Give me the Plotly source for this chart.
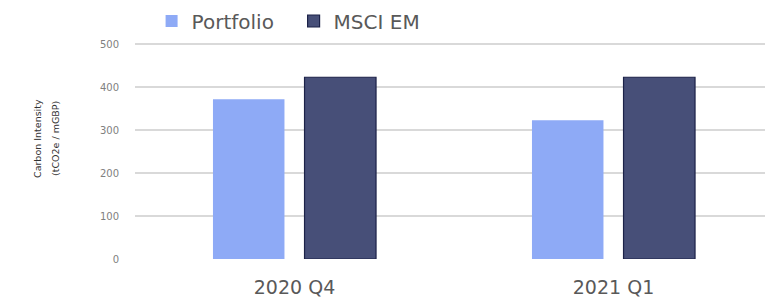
import plotly.graph_objects as go

categories = ["2020 Q4", "2021 Q1"]
portfolio = [372, 323]
msci_em = [423, 423]
series_names = ["Portfolio", "MSCI EM"]
y_ticks = [0, 100, 200, 300, 400, 500]

FONT = "DejaVu Sans"

# page body adds an 8px offset; layout is compensated for it
PLOT_H = 217
PLOT_BOTTOM = 251

fig = go.Figure()
fig.add_trace(go.Bar(
    x=categories, y=portfolio, name=series_names[0],
    marker=dict(color="#8eaaf6", line=dict(width=0)),
))
fig.add_trace(go.Bar(
    x=categories, y=msci_em, name=series_names[1],
    marker=dict(color="#474f78", line=dict(color="#1c2248", width=1.2)),
))

fig.update_layout(
    width=773, height=299,
    margin=dict(l=127, r=8, t=34, b=48, autoexpand=False),
    paper_bgcolor="white", plot_bgcolor="white",
    barmode="group", bargap=0.426, bargroupgap=0.219,
    showlegend=True,
    legend=dict(
        orientation="h", x=0.026, xanchor="left",
        y=1 + (34 - 13) / PLOT_H, yanchor="middle",
        font=dict(family=FONT, size=20, color="#595959"),
        bgcolor="rgba(0,0,0,0)", itemwidth=30,
        entrywidth=97, entrywidthmode="pixels",
    ),
    xaxis=dict(
        showgrid=False, showline=False, zeroline=False, automargin=False,
        tickfont=dict(family=FONT, size=19, color="#595959"),
        ticks="outside", ticklen=0, ticklabelstandoff=11,
    ),
    yaxis=dict(
        range=[0, 505], tickvals=y_ticks, showline=False, zeroline=False,
        automargin=False,
        gridcolor="#d9d9d9", gridwidth=1.5,
        tickfont=dict(family=FONT, size=10, color="#7f7f7f"),
        ticklabelstandoff=15,
    ),
    annotations=[
        dict(text="Carbon Intensity", xref="paper", yref="paper",
             x=-(127 - 29) / 638, y=(PLOT_BOTTOM - 131) / PLOT_H, textangle=-90,
             showarrow=False, font=dict(family=FONT, size=9.5, color="#333333"),
             xanchor="center", yanchor="middle"),
        dict(text="(tCO2e / mGBP)", xref="paper", yref="paper",
             x=-(127 - 47) / 638, y=(PLOT_BOTTOM - 131) / PLOT_H, textangle=-90,
             showarrow=False, font=dict(family=FONT, size=9.5, color="#333333"),
             xanchor="center", yanchor="middle"),
    ],
)

fig.write_html("out.html")
